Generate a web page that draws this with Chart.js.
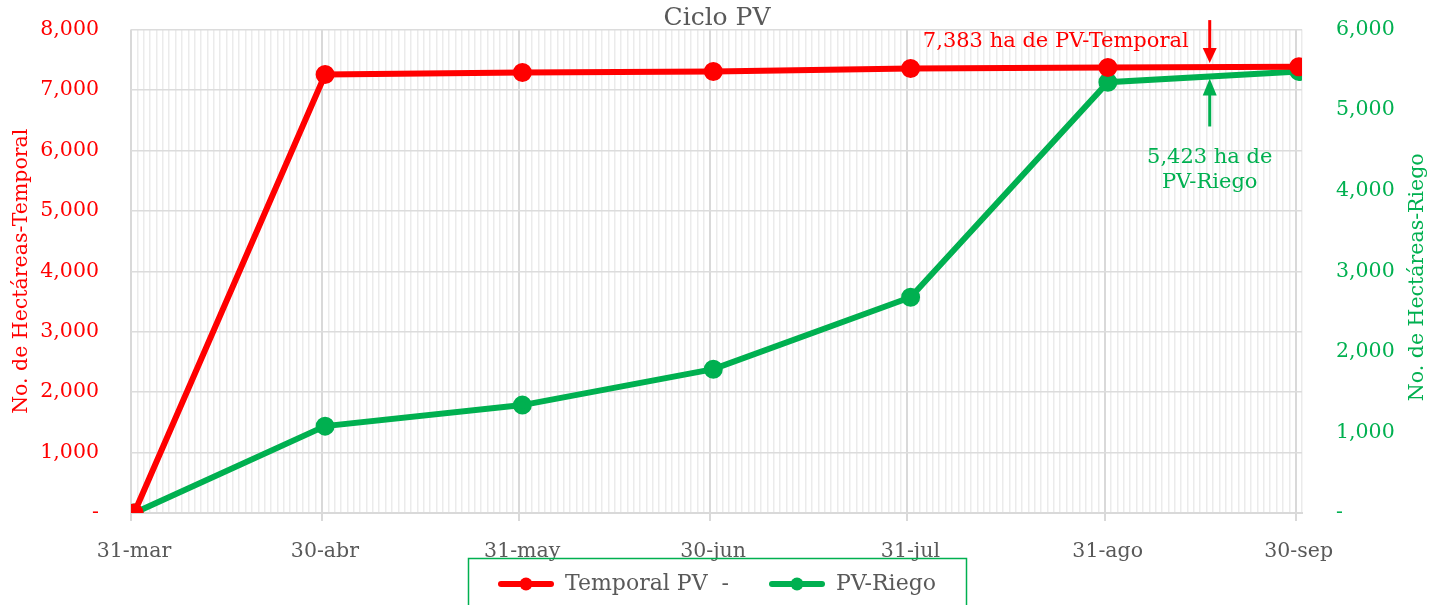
<!DOCTYPE html>
<html>
<head>
<meta charset="utf-8">
<script src="https://cdn.jsdelivr.net/npm/chart.js@4.4.1/dist/chart.umd.min.js"></script>
<style>
html, body { margin: 0; padding: 0; background: #fff; }
#wrap { width: 1434px; height: 605px; }
</style>
</head>
<body>
<div id="wrap"><canvas id="cicloChart"></canvas></div>
<script>
// datos del ciclo PV
const fechas = ['31-mar', '30-abr', '31-may', '30-jun', '31-jul', '31-ago', '30-sep'];
const dias = [0, 30, 61, 91, 122, 153, 183]; // días desde 31-mar
const temporalPV = [0, 7256, 7289, 7306, 7355, 7372, 7383];
const riegoPV = [0, 1078, 1339, 1785, 2678, 5345, 5480];
const ticksTemporal = [0, 1000, 2000, 3000, 4000, 5000, 6000, 7000, 8000];
const ticksRiego = [0, 1000, 2000, 3000, 4000, 5000, 6000];
const notaTemporal = ['7,383 ha de PV-Temporal'];
const notaRiego = ['5,423 ha de', 'PV-Riego'];
const tituloRiego = 'No. de Hectáreas-Riego';
const diaNota = 169; // posición de las flechas (~16-sep)

const ROJO = '#ff0000';
const VERDE = '#00b050';
const GRIS = '#595959';
const FUENTE = "'DejaVu Serif', serif";
const TAM = 20.5;
const MARGEN = 28; // espacio antes de cada icono de la leyenda

function numFmt(v) {
    return v === 0 ? '-' : v.toLocaleString('en-US');
}

// icono de leyenda: línea con punto (margen transparente a la izquierda)
function iconoLeyenda(color) {
    const c = document.createElement('canvas');
    c.width = 56 + MARGEN; c.height = 16;
    const g = c.getContext('2d');
    g.strokeStyle = color; g.lineWidth = 6; g.lineCap = 'round';
    g.beginPath(); g.moveTo(MARGEN + 3, 8); g.lineTo(MARGEN + 53, 8); g.stroke();
    g.fillStyle = color;
    g.beginPath(); g.arc(MARGEN + 28, 8, 6.5, 0, Math.PI * 2); g.fill();
    return c;
}
const iconos = [iconoLeyenda(ROJO), iconoLeyenda(VERDE)];

function interp(serie, dia) {
    return serie[5] + (serie[6] - serie[5]) * (dia - dias[5]) / (dias[6] - dias[5]);
}

// anotaciones con flechas, título derecho y caja de la leyenda
const notasPlugin = {
    id: 'notas',
    afterLayout(chart) {
        // centrar la parte visible de la leyenda
        chart.legend.left -= MARGEN / 2;
        chart.legend.right -= MARGEN / 2;
    },
    afterDatasetsDraw(chart) {
        const ctx = chart.ctx;
        const x = chart.scales.x.getPixelForValue(diaNota);
        const yT = chart.scales.y.getPixelForValue(interp(temporalPV, diaNota));
        const yR = chart.scales.y1.getPixelForValue(interp(riegoPV, diaNota));
        ctx.save();
        ctx.font = '21px ' + FUENTE;
        ctx.textBaseline = 'middle';

        // flecha roja hacia abajo
        ctx.strokeStyle = ROJO; ctx.fillStyle = ROJO; ctx.lineWidth = 3;
        ctx.beginPath(); ctx.moveTo(x, yT - 47); ctx.lineTo(x, yT - 16); ctx.stroke();
        ctx.beginPath(); ctx.moveTo(x - 7, yT - 19); ctx.lineTo(x + 7, yT - 19); ctx.lineTo(x, yT - 4); ctx.closePath(); ctx.fill();
        ctx.textAlign = 'right';
        ctx.fillText(notaTemporal[0], x - 21, yT - 26);

        // flecha verde hacia arriba
        ctx.strokeStyle = VERDE; ctx.fillStyle = VERDE;
        ctx.beginPath(); ctx.moveTo(x, yR + 50); ctx.lineTo(x, yR + 18); ctx.stroke();
        ctx.beginPath(); ctx.moveTo(x - 7, yR + 19); ctx.lineTo(x + 7, yR + 19); ctx.lineTo(x, yR + 2); ctx.closePath(); ctx.fill();
        ctx.textAlign = 'center';
        notaRiego.forEach((t, i) => ctx.fillText(t, x, yR + 81 + i * 25));
        ctx.restore();
    },
    afterDraw(chart) {
        const ctx = chart.ctx;
        const area = chart.chartArea;
        // título del eje derecho, de abajo hacia arriba
        ctx.save();
        ctx.translate(chart.width - 16, (area.top + area.bottom) / 2 + 6);
        ctx.rotate(-Math.PI / 2);
        ctx.font = TAM + 'px ' + FUENTE;
        ctx.fillStyle = VERDE;
        ctx.textAlign = 'center';
        ctx.textBaseline = 'middle';
        ctx.fillText(tituloRiego, 0, 0);
        ctx.restore();

        // caja de la leyenda
        const boxes = chart.legend.legendHitBoxes;
        if (!boxes || !boxes.length) return;
        const ancho = Math.max(...boxes.map(b => b.left + b.width)) - Math.min(...boxes.map(b => b.left)) - MARGEN;
        const centro = (chart.legend.left + chart.legend.right) / 2 + MARGEN / 2;
        const izq = centro - ancho / 2 - 30;
        ctx.save();
        ctx.strokeStyle = VERDE; ctx.lineWidth = 1.5;
        ctx.strokeRect(Math.round(izq) + 0.5, Math.round(chart.legend.top) - 2.5, ancho + 60, 60);
        ctx.restore();
    }
};

const ctx = document.getElementById('cicloChart').getContext('2d');
new Chart(ctx, {
    type: 'line',
    data: {
        datasets: [
            {
                label: 'Temporal PV  -',
                data: dias.map((d, i) => ({ x: d, y: temporalPV[i] })),
                borderColor: ROJO,
                backgroundColor: ROJO,
                borderWidth: 6,
                pointRadius: 6.5,
                pointHoverRadius: 6.5,
                yAxisID: 'y'
            },
            {
                label: 'PV-Riego',
                data: dias.map((d, i) => ({ x: d, y: riegoPV[i] })),
                borderColor: VERDE,
                backgroundColor: VERDE,
                borderWidth: 6,
                pointRadius: 6.5,
                pointHoverRadius: 6.5,
                yAxisID: 'y1'
            }
        ]
    },
    options: {
        responsive: true,
        maintainAspectRatio: false,
        animation: false,
        layout: { autoPadding: false, padding: 0 },
        plugins: {
            title: {
                display: true,
                text: 'Ciclo PV',
                color: GRIS,
                font: { family: FUENTE, size: 25, weight: 'normal', lineHeight: 1.1 },
                padding: { top: 5, bottom: -3 }
            },
            legend: {
                position: 'bottom',
                labels: {
                    color: GRIS,
                    font: { family: FUENTE, size: 22 },
                    usePointStyle: true,
                    pointStyleWidth: 56 + MARGEN,
                    padding: 12,
                    generateLabels(chart) {
                        return chart.data.datasets.map((ds, i) => ({
                            text: ds.label,
                            fontColor: GRIS,
                            pointStyle: iconos[i],
                            strokeStyle: ds.borderColor,
                            fillStyle: ds.backgroundColor,
                            lineWidth: 0,
                            datasetIndex: i
                        }));
                    }
                }
            },
            tooltip: { enabled: false }
        },
        scales: {
            x: {
                type: 'linear',
                min: -0.5,
                max: 183.5,
                afterBuildTicks(scale) {
                    const t = [];
                    for (let k = 0; k <= 184; k++) t.push({ value: k - 0.5 });
                    scale.ticks = t;
                },
                afterFit(scale) { scale.height = 48; },
                ticks: {
                    autoSkip: false,
                    maxRotation: 0,
                    color: GRIS,
                    padding: 18,
                    labelOffset: 3,
                    font: { family: FUENTE, size: TAM },
                    callback(value) {
                        const i = dias.indexOf(value + 0.5);
                        return i >= 0 ? fechas[i] : '';
                    }
                },
                grid: {
                    color(c) { return c.tick && dias.includes(c.tick.value + 0.5) ? '#d9d9d9' : '#ebebeb'; },
                    tickColor(c) { return c.tick && dias.includes(c.tick.value + 0.5) ? '#d9d9d9' : 'rgba(0,0,0,0)'; },
                    tickLength: 8,
                    lineWidth(c) { return c.tick && dias.includes(c.tick.value + 0.5) ? 2 : 1.5; }
                },
                border: { color: '#d9d9d9', width: 2 }
            },
            y: {
                position: 'left',
                min: 0,
                max: 8000,
                afterBuildTicks(scale) { scale.ticks = ticksTemporal.map(v => ({ value: v })); },
                afterFit(scale) { scale.width = 131; },
                ticks: {
                    color: ROJO,
                    padding: 0,
                    font: { family: FUENTE, size: TAM },
                    callback: numFmt
                },
                grid: { color: '#dcdcdc', lineWidth: 1.5, drawTicks: true, tickLength: 32, tickColor: 'rgba(0,0,0,0)' },
                border: { display: false },
                title: {
                    display: true,
                    text: 'No. de Hectáreas-Temporal',
                    color: ROJO,
                    font: { family: FUENTE, size: TAM },
                    padding: { top: 9, bottom: 0 }
                }
            },
            y1: {
                position: 'right',
                min: 0,
                max: 6000,
                afterBuildTicks(scale) { scale.ticks = ticksRiego.map(v => ({ value: v })); },
                afterFit(scale) { scale.width = 132; },
                ticks: {
                    color: VERDE,
                    padding: 0,
                    font: { family: FUENTE, size: TAM },
                    callback: numFmt
                },
                grid: { drawOnChartArea: false, drawTicks: true, tickLength: 34, tickColor: 'rgba(0,0,0,0)' },
                border: { display: false }
            }
        }
    },
    plugins: [notasPlugin]
});
</script>
</body>
</html>
